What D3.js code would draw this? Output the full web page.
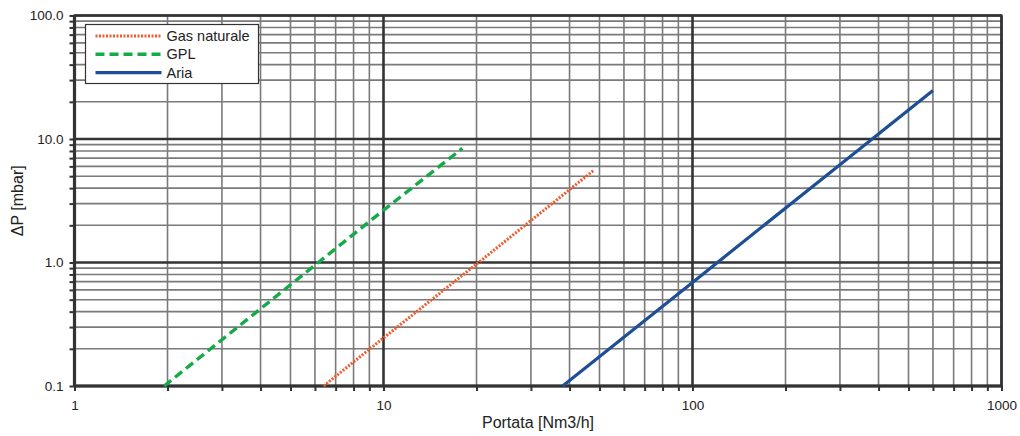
<!DOCTYPE html>
<html>
<head>
<meta charset="utf-8">
<script src="https://cdn.jsdelivr.net/npm/d3@7"></script>
<style>
  body { margin: 0; background: #fff; }
  svg text { font-family: "Liberation Sans", Arial, sans-serif; fill: #222; }
</style>
</head>
<body>
<svg id="chart" width="1020" height="436"></svg>
<script>
// series (Q in Nm3/h, dP in mbar)
var gasNaturale = [[6.4, 0.1], [10, 0.245], [20, 0.97], [48, 5.6]]
var gpl = [[1.95, 0.1], [5, 0.66], [10, 2.65], [18, 8.4]]
var aria = [[38, 0.1], [100, 0.69], [300, 6.2], [600, 24.7]]

var seriesNames = ["Gas naturale", "GPL", "Aria"]
var xTicks = [1, 10, 100, 1000]
var yTicks = [0.1, 1, 10, 100]
var yTickLabels = ["0.1", "1.0", "10.0", "100.0"]

// plot box (window.top is reserved, so prefixed names)
var pLeft = 74.5, pRight = 1001.5, pTop = 15.5, pBottom = 386

var svg = d3.select("#chart")

var x = d3.scaleLog().domain([1, 1000]).range([pLeft, pRight])
var y = d3.scaleLog().domain([0.1, 100]).range([pBottom, pTop])

// all grid values, 1..9 in each decade
function gridValues(lo, hi) {
    var out = []
    for (var e = Math.round(Math.log10(lo)); e < Math.round(Math.log10(hi)); e++) {
        for (var k = 1; k <= 9; k++) out.push(+(k * Math.pow(10, e)).toPrecision(6))
    }
    out.push(hi)
    return out
}
var xGrid = gridValues(1, 1000)
var yGrid = gridValues(0.1, 100)

function isMajor(v) {
    var l = Math.log10(v)
    return Math.abs(l - Math.round(l)) < 1e-9
}

var grid = svg.append("g")
// minor lines first, then major on top
grid.selectAll(".vminor")
    .data(xGrid.filter(function (v) { return !isMajor(v) }))
    .enter().append("line")
    .attr("x1", d => x(d)).attr("x2", d => x(d))
    .attr("y1", pTop).attr("y2", pBottom)
    .attr("stroke", "#7a7a7a").attr("stroke-width", 1.6)
grid.selectAll(".hminor")
    .data(yGrid.filter(function (v) { return !isMajor(v) }))
    .enter().append("line")
    .attr("y1", d => y(d)).attr("y2", d => y(d))
    .attr("x1", pLeft).attr("x2", pRight)
    .attr("stroke", "#7a7a7a").attr("stroke-width", 1.6)
grid.selectAll(".vmajor")
    .data(xTicks)
    .enter().append("line")
    .attr("x1", d => x(d)).attr("x2", d => x(d))
    .attr("y1", pTop).attr("y2", pBottom)
    .attr("stroke", "#333").attr("stroke-width", 2.6)
grid.selectAll(".hmajor")
    .data(yTicks)
    .enter().append("line")
    .attr("y1", d => y(d)).attr("y2", d => y(d))
    .attr("x1", pLeft).attr("x2", pRight)
    .attr("stroke", "#333").attr("stroke-width", 2.6)

// frame
svg.append("rect")
    .attr("x", pLeft).attr("y", pTop)
    .attr("width", pRight - pLeft).attr("height", pBottom - pTop)
    .attr("fill", "none").attr("stroke", "#333").attr("stroke-width", 2.2)
svg.append("line").attr("x1", pLeft).attr("x2", pLeft).attr("y1", pTop).attr("y2", pBottom)
    .attr("stroke", "#333").attr("stroke-width", 3.2)
svg.append("line").attr("x1", pLeft).attr("x2", pRight).attr("y1", pBottom).attr("y2", pBottom)
    .attr("stroke", "#333").attr("stroke-width", 3.2)

// axes: ticks at every grid line, labels only on decades
var xAxis = d3.axisBottom(x).tickValues(xGrid).tickSize(5)
    .tickFormat(d => isMajor(d) ? String(d) : "")
var gx = svg.append("g").attr("transform", "translate(0," + pBottom + ")").call(xAxis)
var yAxis = d3.axisLeft(y).tickValues(yGrid).tickSize(5)
    .tickFormat(d => {
        var i = yTicks.findIndex(t => Math.abs(t - d) < 1e-9)
        return i >= 0 ? yTickLabels[i] : ""
    })
var gy = svg.append("g").attr("transform", "translate(" + pLeft + ",0)").call(yAxis)

;[gx, gy].forEach(function (g) {
    g.select(".domain").remove()
    g.selectAll(".tick line").attr("stroke", "#333").attr("stroke-width", 2)
    g.selectAll(".tick text").style("font-size", "13.5px").attr("fill", "#222")
})
gx.selectAll(".tick text").attr("dy", "1.2em")
gy.selectAll(".tick text").attr("x", -11)

// axis titles
svg.append("text")
    .attr("x", (pLeft + pRight) / 2).attr("y", 428)
    .attr("text-anchor", "middle").style("font-size", "16px")
    .text("Portata [Nm3/h]")
svg.append("text")
    .attr("transform", "translate(23," + ((pTop + pBottom) / 2) + ") rotate(-90)")
    .attr("text-anchor", "middle").style("font-size", "16px")
    .text("ΔP [mbar]")

// series
var series = [
    { name: seriesNames[0], data: gasNaturale, color: "#f15a2b", width: 3, dash: "2,1.5" },
    { name: seriesNames[1], data: gpl, color: "#16a94a", width: 3.4, dash: "9,5" },
    { name: seriesNames[2], data: aria, color: "#1d4f97", width: 3.2, dash: null }
]

var line = d3.line().x(d => x(d[0])).y(d => y(d[1]))
svg.selectAll(".serie")
    .data(series)
    .enter().append("path")
    .attr("class", "serie")
    .attr("d", d => line(d.data))
    .attr("fill", "none")
    .attr("stroke", d => d.color)
    .attr("stroke-width", d => d.width)
    .attr("stroke-dasharray", d => d.dash)

// legend
var lg = svg.append("g").attr("transform", "translate(85.5,24.5)")
lg.append("rect").attr("width", 173).attr("height", 59)
    .attr("fill", "#fff").attr("stroke", "#333").attr("stroke-width", 1.2)
var item = lg.selectAll(".item").data(series).enter().append("g")
    .attr("transform", (d, i) => "translate(0," + (11.5 + i * 18.3) + ")")
item.append("line")
    .attr("x1", 10).attr("x2", 76)
    .attr("stroke", d => d.color)
    .attr("stroke-width", d => d.width)
    .attr("stroke-dasharray", d => d.dash)
item.append("text")
    .attr("x", 81).attr("dy", "0.35em")
    .style("font-size", "14.5px")
    .text(d => d.name)
</script>
</body>
</html>
